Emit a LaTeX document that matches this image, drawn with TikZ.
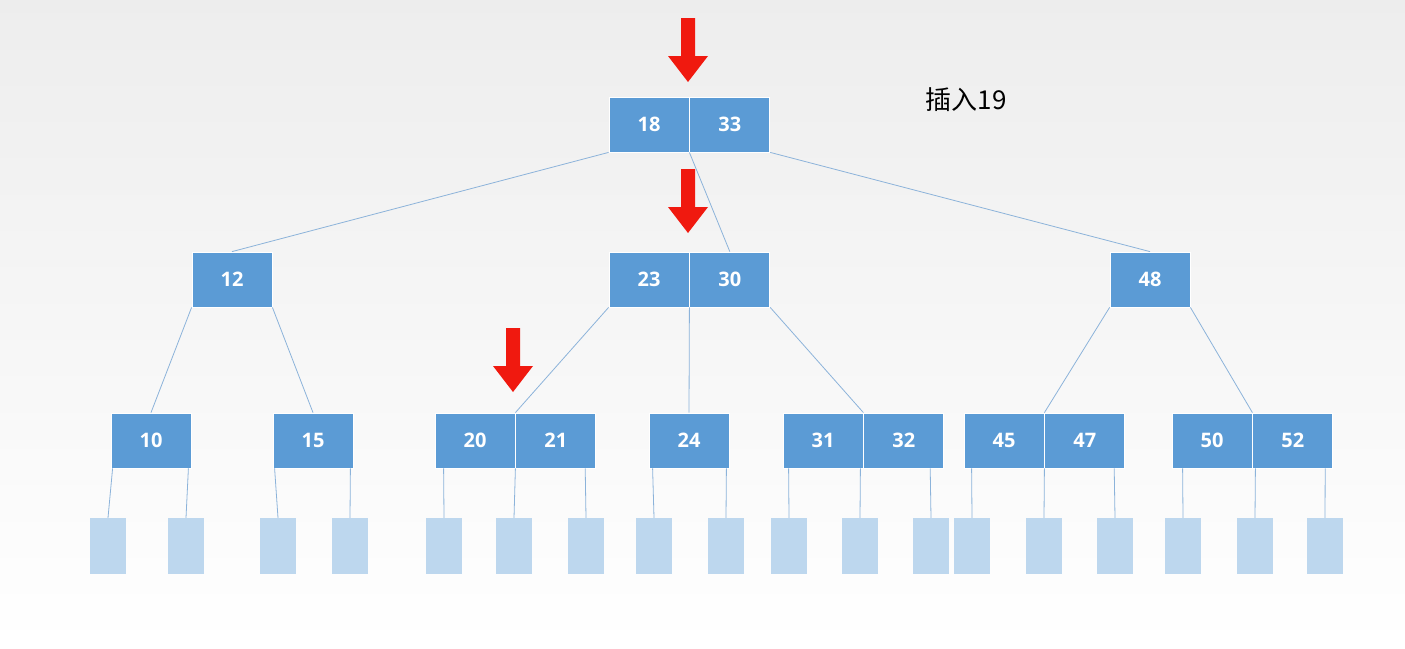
\documentclass[tikz,border=0pt]{standalone}
\usepackage{fontspec}
\setsansfont{Open Sans}
\newfontfamily\cjk{Noto Sans CJK SC}
\usetikzlibrary{positioning}
\definecolor{keyblue}{HTML}{5B9BD5}
\definecolor{leafblue}{HTML}{BDD7EE}
\definecolor{edgeblue}{HTML}{8CB3DA}
\definecolor{markred}{HTML}{F0190F}
\tikzset{
	key/.style={fill=keyblue, draw=white, line width=0.8pt, minimum width=80, minimum height=55, inner sep=0pt, text=white, font=\sffamily\bfseries\fontsize{20}{22}\selectfont},
	leaf/.style={fill=leafblue, minimum width=36, minimum height=56, inner sep=0pt},
	link/.style={draw=edgeblue, line width=0.8pt},
	downmark/.style={fill=markred}
}
\begin{document}
\begin{tikzpicture}[x=1pt, y=-1pt]
	\shade[top color=black!7, bottom color=white] (0,0) rectangle (1405,648);
	\useasboundingbox (0,0) rectangle (1405,648);
	% keys
	\node[key] (n18) at (649,124.5) {18};
	\node[key, right=0pt of n18] (n33) {33};
	\node[key] (n12) at (232,279.5) {12};
	\node[key] (n23) at (649,279.5) {23};
	\node[key, right=0pt of n23] (n30) {30};
	\node[key] (n48) at (1150,279.5) {48};
	\node[key] (n10) at (151,440.5) {10};
	\node[key] (n15) at (313,440.5) {15};
	\node[key] (n20) at (475,440.5) {20};
	\node[key, right=0pt of n20] (n21) {21};
	\node[key] (n24) at (689,440.5) {24};
	\node[key] (n31) at (823,440.5) {31};
	\node[key, right=0pt of n31] (n32) {32};
	\node[key] (n45) at (1004,440.5) {45};
	\node[key, right=0pt of n45] (n47) {47};
	\node[key] (n50) at (1212,440.5) {50};
	\node[key, right=0pt of n50] (n52) {52};
	% leaves
	\foreach \x [count=\i] in {108,186,278,350,444,514,586,654,726,789,860,931,972,1044,1115,1183,1255,1325}
		\node[leaf] (leaf\i) at (\x,546) {};
	% links
	\path[link] (n18.south west) -- (n12.north) (n18.south east) -- (n30.north) (n33.south east) -- (n48.north)
		(n12.south west) -- (n10.north) (n12.south east) -- (n15.north)
		(n23.south west) -- (n20.north east) (n23.south east) -- (n24.north) (n30.south east) -- (n31.north east)
		(n48.south west) -- (n45.north east) (n48.south east) -- (n50.north east);
	\path[link] (n10.south west) ++(2,0) -- (leaf1.north) (n10.south east) ++(-3,0) -- (leaf2.north)
		(n15.south west) ++(2,0) -- (leaf3.north) (n15.south east) ++(-3,0) -- (leaf4.north)
		(n20.south west) ++(9,0) -- (leaf5.north) (n20.south east) -- (leaf6.north) (n21.south east) ++(-11,0) -- (leaf7.north)
		(n24.south west) ++(4,0) -- (leaf8.north) (n24.south east) ++(-3,0) -- (leaf9.north)
		(n31.south west) ++(6,0) -- (leaf10.north) (n31.south east) ++(-3,0) -- (leaf11.north) (n32.south east) ++(-14,0) -- (leaf12.north)
		(n45.south west) ++(8,0) -- (leaf13.north) (n45.south east) -- (leaf14.north) (n47.south east) ++(-11,0) -- (leaf15.north)
		(n50.south west) ++(11,0) -- (leaf16.north) (n50.south east) ++(3,0) -- (leaf17.north) (n52.south east) ++(-8,0) -- (leaf18.north);
	% search path
	\foreach \x/\y in {688/18, 688/169, 513/328}
		\fill[downmark] (\x-7,\y) -- (\x+7,\y) -- (\x+7,\y+38) -- (\x+20,\y+38) -- (\x,\y+64) -- (\x-20,\y+38) -- (\x-7,\y+38) -- cycle;
	\node[font=\cjk\fontsize{26}{30}\selectfont] (caption) at (966,100) {插入19};
\end{tikzpicture}
\end{document}
